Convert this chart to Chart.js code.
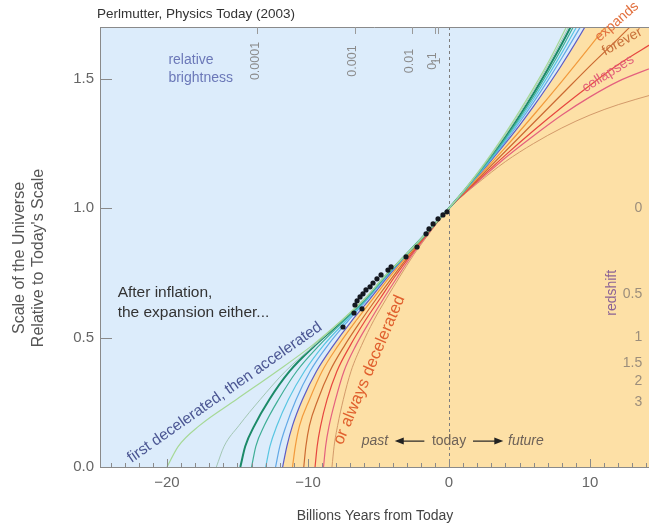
<!DOCTYPE html>
<html>
<head>
<meta charset="utf-8">
<title>Scale of the Universe</title>
<script src="https://cdn.jsdelivr.net/npm/chart.js@4.4.1/dist/chart.umd.min.js"></script>
<style>
  html, body { margin: 0; padding: 0; background: #fff; }
  #wrap { width: 649px; height: 524px; }
</style>
</head>
<body>
<div id="wrap"><canvas id="chart" width="649" height="524"></canvas></div>
<script>
/* ---- Axis ranges and ticks ---- */
const X_MIN = -24.75;
const X_MAX = 14.18;
const Y_MIN = 0;
const Y_MAX = 1.7;
const X_TICKS = [-20, -10, 0, 10];
const Y_TICKS = [0, 0.5, 1.0, 1.5];

/* ---- Secondary scales (relative brightness on top, redshift on right) ---- */
const BRIGHTNESS_LABELS = ['0.0001', '0.001', '0.01', '0.1', '1'];
const BRIGHTNESS_T      = [-13.6, -6.7, -2.65, -1.0, -0.75];
const REDSHIFT_LABELS   = ['0', '0.5', '1', '1.5', '2', '3'];
const REDSHIFT_SCALE    = [1.0, 0.667, 0.5, 0.4, 0.333, 0.25];

/* ---- Model curves: past part read at fixed heights, future part as points ---- */
const PAST_SCALE = [0, 0.08, 0.16, 0.26, 0.37, 0.47, 0.565, 0.65, 0.735, 0.82, 0.91, 1];

// first decelerated, then accelerated (blue side)
const greenPast     = [-20, -19.2, -17.7, -15.1, -12.2, -9.7, -7.65, -6.0, -4.6, -3.07, -1.5, 0];
const greenFuture   = [[1, 1.065], [2, 1.135], [3, 1.21], [4, 1.29], [5, 1.375], [6, 1.465], [7, 1.56], [8, 1.665], [8.6, 1.73]];
const sagePast      = [-16.5, -15.95, -14.9, -13.4, -11.6, -9.55, -7.6, -5.95, -4.58, -3.06, -1.5, 0];
const sageFuture    = [[1, 1.064], [2, 1.132], [3, 1.205], [4, 1.283], [5, 1.366], [6, 1.455], [7, 1.55], [8, 1.65], [8.8, 1.735]];
const darkTealPast  = [-14.8, -14.45, -13.8, -12.75, -11.3, -9.5, -7.55, -5.9, -4.55, -3.05, -1.5, 0];
const darkTealFuture= [[1, 1.063], [2, 1.13], [3, 1.2], [4, 1.276], [5, 1.357], [6, 1.444], [7, 1.537], [8, 1.635], [9, 1.74]];
const tealPast      = [-14.0, -13.7, -13.1, -12.1, -10.8, -9.2, -7.45, -5.86, -4.52, -3.04, -1.5, 0];
const tealFuture    = [[1, 1.063], [2, 1.128], [3, 1.197], [4, 1.27], [5, 1.349], [6, 1.433], [7, 1.523], [8, 1.618], [9.2, 1.74]];
const cyanPast      = [-13.0, -12.7, -12.2, -11.4, -10.25, -8.9, -7.3, -5.82, -4.5, -3.03, -1.5, 0];
const cyanFuture    = [[1, 1.062], [2, 1.126], [3, 1.193], [4, 1.264], [5, 1.341], [6, 1.422], [7, 1.509], [8, 1.6], [9.5, 1.745]];
const skyPast       = [-12.3, -12.0, -11.55, -10.85, -9.85, -8.6, -7.15, -5.75, -4.45, -3.02, -1.5, 0];
const skyFuture     = [[1, 1.062], [2, 1.124], [3, 1.19], [4, 1.258], [5, 1.332], [6, 1.41], [7, 1.493], [8, 1.58], [9.8, 1.745]];
// edge of the orange (always decelerating) region
const edgePast      = [-11.8, -11.5, -11.1, -10.4, -9.4, -8.2, -6.9, -5.6, -4.35, -3.0, -1.5, 0];
const edgeFuture    = [[1, 1.061], [2, 1.121], [3, 1.185], [4, 1.251], [5, 1.32], [6, 1.394], [7, 1.472], [8, 1.554], [10, 1.735], [12, 1.95], [15, 2.3]];

// or always decelerated (orange side)
const orangePast    = [-11.1, -10.9, -10.6, -9.9, -9.0, -7.85, -6.6, -5.4, -4.2, -2.9, -1.46, 0];
const orangeFuture  = [[1, 1.058], [2, 1.116], [4, 1.235], [6, 1.36], [8, 1.49], [10, 1.625], [11.5, 1.73]];
const rustPast      = [-10.3, -10.15, -9.9, -9.3, -8.45, -7.4, -6.25, -5.15, -4.0, -2.8, -1.42, 0];
const rustFuture    = [[1, 1.056], [2, 1.11], [4, 1.22], [6, 1.33], [8, 1.44], [10, 1.55], [12, 1.655], [13.2, 1.72]];
const redPast       = [-9.5, -9.35, -9.1, -8.65, -7.95, -7.0, -5.95, -4.9, -3.85, -2.7, -1.4, 0];
const redFuture     = [[1, 1.054], [2, 1.105], [4, 1.205], [6, 1.3], [8, 1.39], [10, 1.475], [12, 1.555], [14.5, 1.64]];
const pinkPast      = [-8.9, -8.75, -8.5, -8.05, -7.45, -6.6, -5.6, -4.65, -3.65, -2.6, -1.35, 0];
const pinkFuture    = [[1, 1.052], [2, 1.1], [4, 1.195], [6, 1.28], [8, 1.36], [10, 1.43], [12, 1.49], [14.5, 1.545]];
const tanPast       = [-8.3, -8.15, -7.9, -7.5, -6.95, -6.2, -5.35, -4.45, -3.5, -2.5, -1.3, 0];
const tanFuture     = [[1, 1.05], [2, 1.095], [4, 1.18], [6, 1.25], [8, 1.31], [10, 1.36], [12, 1.40], [14.5, 1.44]];

/* ---- Supernova measurements ---- */
const SN_T = [-0.14, -0.43, -0.78, -1.13, -1.42, -1.63, -2.27, -3.05, -4.11, -4.33, -4.82, -5.11,
              -5.39, -5.6, -5.89, -6.1, -6.31, -6.52, -6.67, -6.17, -6.74, -7.52];
const SN_A = [0.986, 0.974, 0.959, 0.939, 0.92, 0.901, 0.85, 0.812, 0.773, 0.761, 0.742, 0.727,
              0.711, 0.696, 0.684, 0.669, 0.657, 0.642, 0.626, 0.611, 0.595, 0.541];

/* ---- Styles ---- */
const FONT = "'Liberation Sans', Arial, Helvetica, sans-serif";
const SKY = '#dcecfb';
const SAND = '#fde0a6';
const AXIS = '#8a8a8a';

const CURVES = [
  { past: greenPast,    future: greenFuture,    color: '#a6d996', width: 1.2 },
  { past: sagePast,     future: sageFuture,     color: '#a3c7b4', width: 1.0 },
  { past: tealPast,     future: tealFuture,     color: '#3fae96', width: 1.2 },
  { past: cyanPast,     future: cyanFuture,     color: '#58c6e2', width: 1.2 },
  { past: skyPast,      future: skyFuture,      color: '#62a9e6', width: 1.2 },
  { past: darkTealPast, future: darkTealFuture, color: '#1b8a68', width: 2.0 },
  { past: orangePast,   future: orangeFuture,   color: '#f29a3c', width: 1.2 },
  { past: rustPast,     future: rustFuture,     color: '#cc6a32', width: 1.2 },
  { past: redPast,      future: redFuture,      color: '#e6463f', width: 1.2 },
  { past: pinkPast,     future: pinkFuture,     color: '#e4607e', width: 1.2 },
  { past: tanPast,      future: tanFuture,      color: '#d39a6a', width: 1.0 },
];
const EDGE = { past: edgePast, future: edgeFuture, color: '#5b5cc6', width: 1.2 };

/* ------------------------------------------------------------------ */
/*  Helpers                                                            */
/* ------------------------------------------------------------------ */

function curvePoints(c) {
  const pts = c.past.map((t, i) => ({ x: t, y: PAST_SCALE[i] }));
  return pts.concat(c.future.map(([t, a]) => ({ x: t, y: a })));
}

function lineDataset(c, extra) {
  return Object.assign({
    data: curvePoints(c),
    borderColor: c.color,
    borderWidth: c.width,
    pointRadius: 0,
    fill: false,
    cubicInterpolationMode: 'monotone',
  }, extra || {});
}

function text(ctx, str, x, y, o) {
  ctx.save();
  ctx.translate(x, y);
  if (o.angle) ctx.rotate(o.angle * Math.PI / 180);
  ctx.font = `${o.style || ''} ${o.size || 13}px ${FONT}`;
  ctx.fillStyle = o.color;
  ctx.textAlign = o.align || 'center';
  ctx.textBaseline = 'middle';
  ctx.fillText(str, 0, 0);
  ctx.restore();
}

function arrow(ctx, x1, x2, y) {
  const dir = Math.sign(x2 - x1);
  ctx.save();
  ctx.strokeStyle = '#222';
  ctx.fillStyle = '#222';
  ctx.lineWidth = 1.2;
  ctx.beginPath();
  ctx.moveTo(x1, y);
  ctx.lineTo(x2 - dir * 6, y);
  ctx.stroke();
  ctx.beginPath();
  ctx.moveTo(x2, y);
  ctx.lineTo(x2 - dir * 9, y - 3.5);
  ctx.lineTo(x2 - dir * 9, y + 3.5);
  ctx.closePath();
  ctx.fill();
  ctx.restore();
}

/* ------------------------------------------------------------------ */
/*  Decorations plugin                                                 */
/* ------------------------------------------------------------------ */

const decorations = {
  id: 'decorations',
  beforeDraw(chart) {
    const { ctx, chartArea: a } = chart;
    ctx.save();
    ctx.fillStyle = SKY;
    ctx.fillRect(a.left, a.top, a.right - a.left, a.bottom - a.top);
    ctx.restore();
  },
  beforeDatasetsDraw(chart) {
    // dashed "today" line
    const { ctx, chartArea: a, scales: { x } } = chart;
    const x0 = Math.round(x.getPixelForValue(0)) + 0.5;
    ctx.save();
    ctx.strokeStyle = '#7d7d7d';
    ctx.lineWidth = 1;
    ctx.setLineDash([3, 3]);
    ctx.beginPath();
    ctx.moveTo(x0, a.top);
    ctx.lineTo(x0, a.bottom);
    ctx.stroke();
    ctx.restore();
  },
  afterDraw(chart) {
    const { ctx, chartArea: a, scales: { x, y } } = chart;
    const X = (v) => x.getPixelForValue(v);
    const Y = (v) => y.getPixelForValue(v);

    ctx.save();
    ctx.strokeStyle = AXIS;
    ctx.lineWidth = 1;
    // top frame line
    ctx.beginPath();
    ctx.moveTo(a.left, a.top + 0.5);
    ctx.lineTo(a.right, a.top + 0.5);
    ctx.stroke();
    // inner ticks, x
    for (let t = -24; t <= 14; t++) {
      const len = t % 10 === 0 ? 8 : 4;
      const px = Math.round(X(t)) + 0.5;
      ctx.beginPath();
      ctx.moveTo(px, a.bottom);
      ctx.lineTo(px, a.bottom - len);
      ctx.stroke();
    }
    // inner ticks, y
    for (const v of Y_TICKS.slice(1)) {
      const py = Math.round(Y(v)) + 0.5;
      ctx.beginPath();
      ctx.moveTo(a.left, py);
      ctx.lineTo(a.left + 12, py);
      ctx.stroke();
    }
    // brightness ticks along top
    ctx.strokeStyle = '#9a9a9a';
    for (const t of BRIGHTNESS_T) {
      const px = Math.round(X(t)) + 0.5;
      ctx.beginPath();
      ctx.moveTo(px, a.top);
      ctx.lineTo(px, a.top + 7);
      ctx.stroke();
    }
    ctx.restore();

    // title and axis titles
    text(ctx, 'Perlmutter, Physics Today (2003)', 97, 14, { color: '#333', size: 13.5, align: 'left' });
    text(ctx, 'Scale of the Universe', 20, 258, { color: '#555', size: 16, angle: -90 });
    text(ctx, "Relative to Today's Scale", 39, 258, { color: '#555', size: 16, angle: -90 });
    text(ctx, 'Billions Years from Today', 375, 516, { color: '#444', size: 14 });

    // relative brightness scale
    text(ctx, 'relative', X(-19.9), Y(1.573), { color: '#6b78b8', size: 14, align: 'left' });
    text(ctx, 'brightness', X(-19.9), Y(1.504), { color: '#6b78b8', size: 14, align: 'left' });
    BRIGHTNESS_LABELS.forEach((lab, i) => {
      text(ctx, lab, X(BRIGHTNESS_T[i]) - 2, 61, { color: '#8a8a8a', size: 12.5, angle: -90 });
    });

    // redshift scale
    text(ctx, 'redshift', X(11.6), Y(0.673), { color: '#8c6496', size: 14, angle: -90 });
    REDSHIFT_LABELS.forEach((lab, i) => {
      text(ctx, lab, X(13.7), Y(REDSHIFT_SCALE[i]), { color: '#9c8e7c', size: 14, align: 'right' });
    });

    // narrative labels
    text(ctx, 'After inflation,', X(-23.5), Y(0.673), { color: '#333', size: 15.5, align: 'left' });
    text(ctx, 'the expansion either...', X(-23.5), Y(0.595), { color: '#333', size: 15.5, align: 'left' });
    text(ctx, 'first decelerated, then accelerated', X(-15.9), Y(0.288), { color: '#4a5592', size: 15.5, angle: -35 });
    text(ctx, 'or always decelerated', X(-5.65), Y(0.375), { color: '#e0602e', size: 16.5, angle: -67 });
    text(ctx, 'expands', X(11.9), Y(1.72), { color: '#e2703e', size: 14, angle: -41 });
    text(ctx, 'forever', X(12.27), Y(1.643), { color: '#c8703a', size: 14, angle: -29 });
    text(ctx, 'collapses', X(11.28), Y(1.519), { color: '#e2607a', size: 14, angle: -32 });

    // past <- today -> future
    const yr = Y(0.1);
    text(ctx, 'past', X(-5.25), yr, { color: '#6e6258', size: 14, style: 'italic' });
    arrow(ctx, X(-1.75), X(-3.85), yr);
    text(ctx, 'today', X(0), yr, { color: '#6e6258', size: 14 });
    arrow(ctx, X(1.7), X(3.85), yr);
    text(ctx, 'future', X(5.45), yr, { color: '#6e6258', size: 14, style: 'italic' });
  },
};

/* ------------------------------------------------------------------ */
/*  Chart                                                              */
/* ------------------------------------------------------------------ */

const datasets = [
  {
    data: SN_T.map((t, i) => ({ x: t, y: SN_A[i] })),
    showLine: false,
    pointRadius: 2.6,
    pointBackgroundColor: '#141820',
    pointBorderWidth: 0,
  },
  ...CURVES.map((c) => lineDataset(c)),
  lineDataset(EDGE, { fill: 'origin', backgroundColor: SAND }),
];

const tickFont = { family: FONT, size: 15 };

new Chart(document.getElementById('chart'), {
  type: 'line',
  data: { datasets },
  options: {
    responsive: false,
    animation: false,
    events: [],
    layout: { autoPadding: false, padding: { top: 27, right: 0, left: 0, bottom: 0 } },
    plugins: {
      legend: { display: false },
      tooltip: { enabled: false },
      filler: { drawTime: 'beforeDatasetsDraw' },
    },
    scales: {
      x: {
        type: 'linear',
        min: X_MIN,
        max: X_MAX,
        afterFit: (s) => { s.height = 57; },
        afterBuildTicks: (s) => { s.ticks = X_TICKS.map((v) => ({ value: v })); },
        grid: { drawOnChartArea: false, drawTicks: false },
        border: { color: AXIS, width: 1 },
        ticks: {
          color: '#666', font: tickFont, padding: 7, maxRotation: 0, autoSkip: false,
          callback: (v) => (v < 0 ? '\u2212' + Math.abs(v) : String(v)),
        },
      },
      y: {
        type: 'linear',
        min: Y_MIN,
        max: Y_MAX,
        afterFit: (s) => { s.width = 100; },
        afterBuildTicks: (s) => { s.ticks = Y_TICKS.map((v) => ({ value: v })); },
        grid: { drawOnChartArea: false, drawTicks: false },
        border: { color: AXIS, width: 1 },
        ticks: { color: '#666', font: tickFont, padding: 6, callback: (v) => v.toFixed(1) },
      },
    },
  },
  plugins: [decorations],
});
</script>
</body>
</html>
